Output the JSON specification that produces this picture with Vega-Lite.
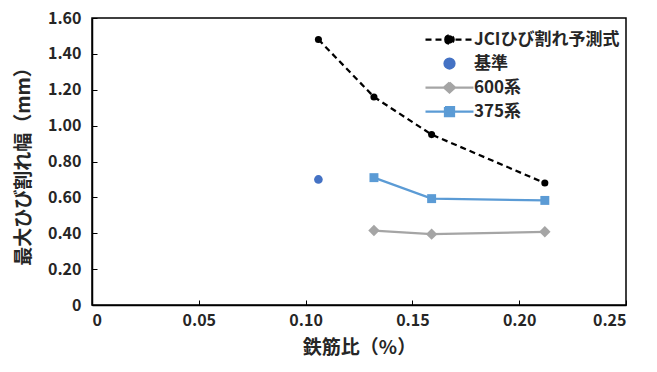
{
  "$schema": "https://vega.github.io/schema/vega-lite/v6.json",
  "width": 534,
  "height": 287,
  "autosize": {"type": "none"},
  "padding": {"left": 92, "top": 18, "right": 31, "bottom": 67},
  "background": "white",
  "view": {"stroke": "#000000", "strokeWidth": 1.5},
  "config": {
    "font": "Noto Sans CJK JP",
    "view": {"stroke": "#000000", "strokeWidth": 1.5},
    "axis": {
      "grid": false,
      "domainColor": "#000000",
      "domainWidth": 1.5,
      "ticks": true,
      "tickColor": "#000000",
      "tickWidth": 1,
      "tickSize": -5,
      "labelFont": "Noto Sans CJK JP",
      "labelFontSize": 16,
      "labelFontWeight": "bold",
      "labelColor": "#262626",
      "titleFont": "Noto Sans CJK JP",
      "titleFontSize": 19,
      "titleFontWeight": "bold",
      "titleColor": "#262626"
    }
  },
  "data": {
    "values": [
      {"series": "JCIひび割れ予測式", "x": 0.106, "y": 1.48},
      {"series": "JCIひび割れ予測式", "x": 0.132, "y": 1.16},
      {"series": "JCIひび割れ予測式", "x": 0.159, "y": 0.95},
      {"series": "JCIひび割れ予測式", "x": 0.212, "y": 0.68},
      {"series": "基準", "x": 0.106, "y": 0.70},
      {"series": "600系", "x": 0.132, "y": 0.415},
      {"series": "600系", "x": 0.159, "y": 0.395},
      {"series": "600系", "x": 0.212, "y": 0.408},
      {"series": "375系", "x": 0.132, "y": 0.71},
      {"series": "375系", "x": 0.159, "y": 0.593},
      {"series": "375系", "x": 0.212, "y": 0.583}
    ]
  },
  "encoding": {
    "x": {
      "field": "x",
      "type": "quantitative",
      "scale": {"domain": [0, 0.25], "nice": false, "zero": false},
      "axis": {
        "title": "鉄筋比（%）",
        "values": [0, 0.05, 0.1, 0.15, 0.2, 0.25],
        "labelExpr": "datum.value === 0 ? '0' : format(datum.value, '.2f')",
        "labelPadding": 12,
        "titlePadding": 10
      }
    },
    "y": {
      "field": "y",
      "type": "quantitative",
      "scale": {"domain": [0, 1.6], "nice": false},
      "axis": {
        "title": "最大ひび割れ幅（mm）",
        "values": [0, 0.2, 0.4, 0.6, 0.8, 1.0, 1.2, 1.4, 1.6],
        "labelExpr": "datum.value === 0 ? '0' : format(datum.value, '.2f')",
        "labelPadding": 16,
        "titlePadding": 14
      }
    },
    "color": {
      "field": "series",
      "type": "nominal",
      "scale": {
        "domain": ["JCIひび割れ予測式", "基準", "600系", "375系"],
        "range": ["#000000", "#4472C4", "#A5A5A5", "#5B9BD5"]
      },
      "legend": {
        "title": null,
        "orient": "none",
        "legendX": 346,
        "legendY": 10,
        "symbolType": "M-1,0L1,0",
        "symbolSize": 400,
        "symbolStrokeWidth": 2.25,
        "symbolOpacity": 1,
        "labelFont": "Noto Sans CJK JP",
        "labelFontSize": 17,
        "labelFontWeight": "bold",
        "labelColor": "#262626",
        "labelOffset": 13,
        "rowPadding": 3,
        "encode": {
          "symbols": {
            "update": {
              "shape": {"signal": "datum.value === 'JCIひび割れ予測式' ? 'M-2.4,0L2.4,0M-0.42,0A0.42,0.42 0 1,0 0.42,0A0.42,0.42 0 1,0 -0.42,0Z' : datum.value === '基準' ? 'M-0.5,0A0.5,0.5 0 1,0 0.5,0A0.5,0.5 0 1,0 -0.5,0Z' : datum.value === '600系' ? 'M-2.4,0L2.4,0M0,-0.5L0.55,0L0,0.5L-0.55,0Z' : 'M-2.4,0L2.4,0M-0.45,-0.45L0.45,-0.45L0.45,0.45L-0.45,0.45Z'"},
              "size": {"value": 400},
              "fill": {"signal": "scale('color', datum.value)"},
              "stroke": {"signal": "scale('color', datum.value)"},
              "strokeWidth": {"value": 2.25},
              "strokeDash": {"signal": "datum.value === 'JCIひび割れ予測式' ? [6, 4] : [100, 0]"},
              "opacity": {"value": 1}
            }
          }
        }
      }
    }
  },
  "layer": [
    {
      "transform": [{"filter": "datum.series === 'JCIひび割れ予測式'"}],
      "mark": {"type": "line", "strokeWidth": 2.25, "strokeDash": [6, 4]}
    },
    {
      "transform": [{"filter": "datum.series === '600系' || datum.series === '375系'"}],
      "mark": {"type": "line", "strokeWidth": 2.25}
    },
    {
      "transform": [{"filter": "datum.series === 'JCIひび割れ予測式'"}],
      "mark": {"type": "point", "shape": "circle", "filled": true, "opacity": 1, "size": 50}
    },
    {
      "transform": [{"filter": "datum.series === '基準'"}],
      "mark": {"type": "point", "shape": "circle", "filled": true, "opacity": 1, "size": 75}
    },
    {
      "transform": [{"filter": "datum.series === '600系'"}],
      "mark": {"type": "point", "shape": "diamond", "filled": true, "opacity": 1, "size": 130}
    },
    {
      "transform": [{"filter": "datum.series === '375系'"}],
      "mark": {"type": "point", "shape": "square", "filled": true, "opacity": 1, "size": 80}
    }
  ]
}
